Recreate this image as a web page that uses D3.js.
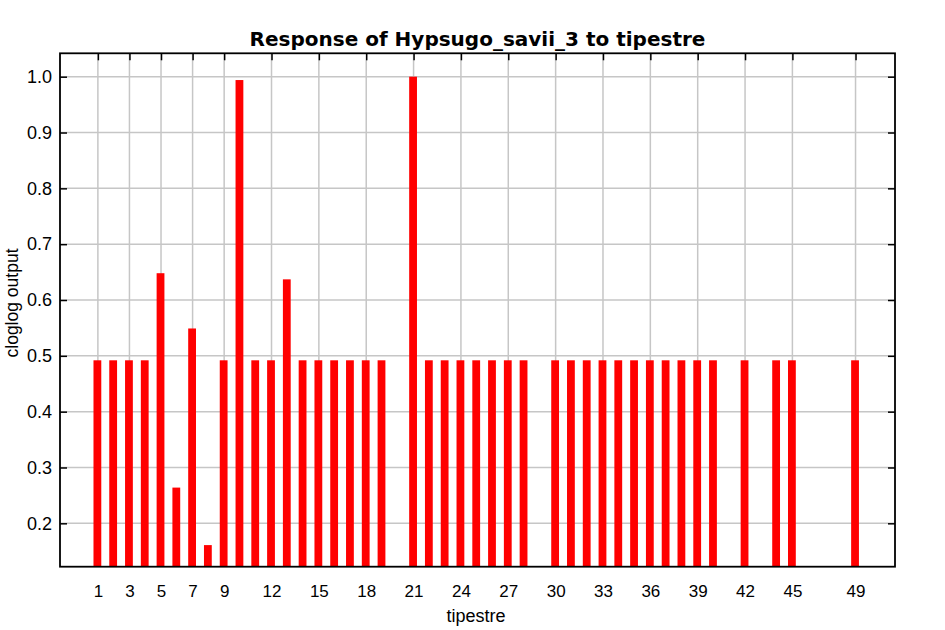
<!DOCTYPE html>
<html>
<head>
<meta charset="utf-8">
<script src="https://cdn.jsdelivr.net/npm/d3@7"></script>
<style>
  html, body { margin: 0; padding: 0; background: #fff; }
  svg { display: block; }
</style>
</head>
<body>
<svg id="chart" width="945" height="630"></svg>
<script>
// ---- data ----
const categories = [1,2,3,4,5,6,7,8,9,10,11,12,13,14,15,16,17,18,19,
                    21,22,23,24,25,26,27,28,
                    30,31,32,33,34,35,36,37,38,39,40,
                    42,44,45,49];
const values = [0.492,0.492,0.492,0.492,0.648,0.264,0.549,0.161,0.492,0.994,0.492,0.492,0.637,0.492,0.492,0.492,0.492,0.492,0.492,
                1.0,0.492,0.492,0.492,0.492,0.492,0.492,0.492,
                0.492,0.492,0.492,0.492,0.492,0.492,0.492,0.492,0.492,0.492,0.492,
                0.492,0.492,0.492,0.492];
const xTickValues = [1,3,5,7,9,12,15,18,21,24,27,30,33,36,39,42,45,49];
const yTickValues = [0.2,0.3,0.4,0.5,0.6,0.7,0.8,0.9,1.0];
const titleText = "Response of Hypsugo_savii_3 to tipestre";
const xLabel = "tipestre";
const yLabel = "cloglog output";

// ---- layout ----
const pLeft = 60, pRight = 895, pTop = 53.3, pBottom = 566.7;
const svg = d3.select("#chart");

const x = d3.scaleLinear().domain([-1.4, 51.5]).range([pLeft, pRight]);
const y = d3.scaleLinear().domain([0.1223, 1.0419]).range([pBottom, pTop]);

const tickFont = "'Liberation Sans', Arial, sans-serif";

// grid
const grid = svg.append("g");
grid.selectAll("line.vg").data(xTickValues).join("line")
  .attr("class", "vg")
  .attr("x1", d => x(d)).attr("x2", d => x(d))
  .attr("y1", pTop).attr("y2", pBottom)
  .attr("stroke", "#c6c6c6").attr("stroke-width", 1.5);
grid.selectAll("line.hg").data(yTickValues).join("line")
  .attr("class", "hg")
  .attr("x1", pLeft).attr("x2", pRight)
  .attr("y1", d => y(d)).attr("y2", d => y(d))
  .attr("stroke", "#c6c6c6").attr("stroke-width", 1.5);

// bars
const barW = 7.8;
svg.append("g").selectAll("rect").data(categories.map((c, i) => ({c, v: values[i]}))).join("rect")
  .attr("x", d => x(d.c) - barW / 2 - 0.5)
  .attr("width", barW)
  .attr("y", d => y(d.v))
  .attr("height", d => pBottom - y(d.v))
  .attr("fill", "#ff0000");

// axes (inward ticks)
function styleAxis(g, size) {
  g.select(".domain").remove();
  g.selectAll(".tick line").attr("stroke", "#000").attr("stroke-width", 1.5);
  g.selectAll(".tick text").attr("font-family", tickFont).attr("font-size", size).attr("fill", "#000");
}
const axB = svg.append("g").attr("transform", `translate(0,${pBottom})`)
  .call(d3.axisBottom(x).tickValues(xTickValues).tickFormat(d3.format("d")).tickSize(0).tickPadding(18));
styleAxis(axB, "17px");
const axT = svg.append("g").attr("transform", `translate(0,${pTop})`)
  .call(d3.axisBottom(x).tickValues(xTickValues).tickSize(7).tickFormat(""));
styleAxis(axT, "17px");
const axL = svg.append("g").attr("transform", `translate(${pLeft},0)`)
  .call(d3.axisLeft(y).tickValues(yTickValues).tickFormat(d3.format(".1f")).tickSize(-7).tickPadding(8));
styleAxis(axL, "18px");
const axR = svg.append("g").attr("transform", `translate(${pRight},0)`)
  .call(d3.axisLeft(y).tickValues(yTickValues).tickSize(7).tickFormat(""));
styleAxis(axR, "17px");

// frame
svg.append("rect").attr("x", pLeft).attr("y", pTop)
  .attr("width", pRight - pLeft).attr("height", pBottom - pTop)
  .attr("fill", "none").attr("stroke", "#000").attr("stroke-width", 1.8);

// title and labels
svg.append("text").attr("x", (pLeft + pRight) / 2).attr("y", 45.5)
  .attr("text-anchor", "middle")
  .attr("font-family", "'DejaVu Sans', sans-serif").attr("font-weight", "bold").attr("font-size", "20px")
  .text(titleText);
svg.append("text").attr("x", 476).attr("y", 622)
  .attr("text-anchor", "middle")
  .attr("font-family", tickFont).attr("font-size", "18px")
  .text(xLabel);
svg.append("text").attr("transform", "translate(18,303) rotate(-90)")
  .attr("text-anchor", "middle")
  .attr("font-family", tickFont).attr("font-size", "17.5px")
  .text(yLabel);
</script>
</body>
</html>
